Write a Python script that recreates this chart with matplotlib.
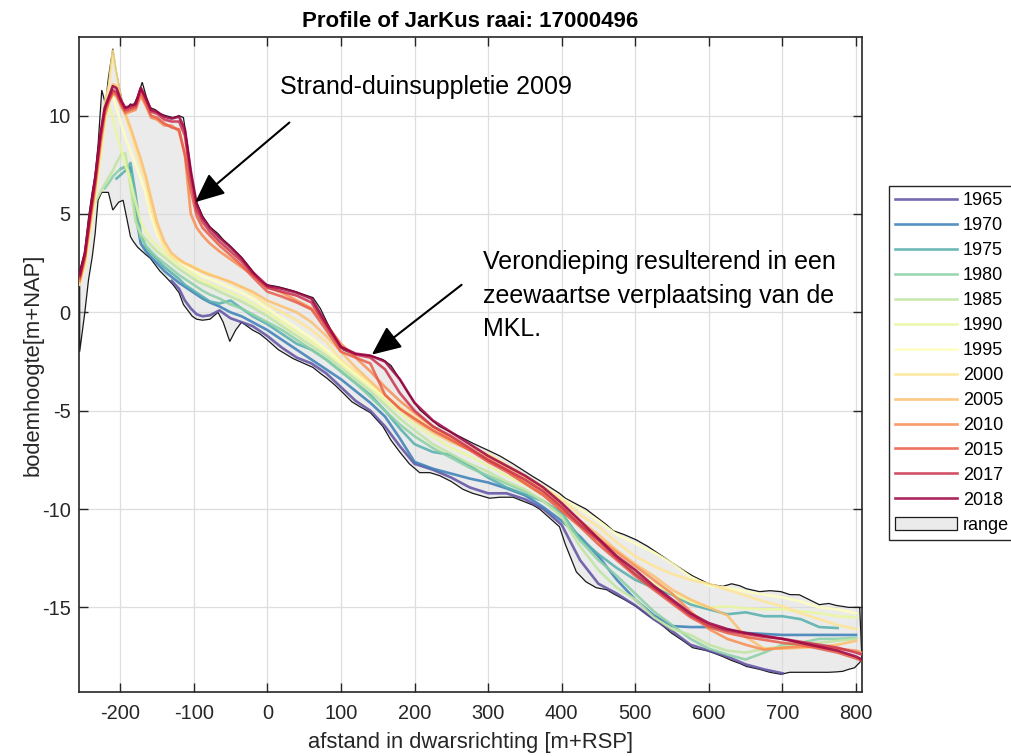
import matplotlib.pyplot as plt
import numpy as np

plt.rcParams['font.family'] = ['Liberation Sans', 'DejaVu Sans']
plt.rcParams['axes.unicode_minus'] = False

# cross-shore distance of the profile points [m+RSP]
dist = [-255, -248, -241, -234, -227, -221, -215, -210, -205, -199,
        -193, -186, -179, -172, -165, -158, -150, -140, -130, -120,
        -112, -104, -96, -88, -78, -65, -50, -35, -20, 0,
        20, 40, 60, 80, 100, 120, 140, 160, 180, 200,
        225, 250, 275, 300, 325, 350, 375, 400, 425, 450,
        475, 500, 525, 550, 575, 600, 625, 650, 675, 700,
        725, 750, 775, 800, 808]

# bed level per survey year [m+NAP], None where the year has no data
z1965 = [None] * 18 + [1.6, 1.2, 0.6, 0.2, -0.1, -0.2, -0.15, 0.1, -0.3, -0.5, -0.7, -1.2,
                       -1.8, -2.3, -2.6, -3.1, -3.8, -4.5, -5.0, -5.8, -6.8, -7.7,
                       -8.0, -8.4, -8.9, -9.2, -9.2, -9.5, -10.0, -10.8, -12.6, -13.8,
                       -14.3, -14.9, -15.6, -16.2, -16.9, -17.2, -17.5, -17.9, -18.15, -18.35,
                       None, None, None, None, None]
z1970 = [None] * 9 + [7.3, 7.4, 7.35, 5.0, 3.5, 3.1, 2.8, 2.5, 2.1, 1.8, 1.5,
                      1.3, 1.1, 0.9, 0.7, 0.5, 0.3, 0.0, -0.2, -0.5, -0.9,
                      -1.4, -1.9, -2.4, -2.9, -3.4, -4.0, -4.6, -5.3, -6.4, -7.6,
                      -7.95, -8.2, -8.45, -8.65, -8.95, -9.3, -9.9, -10.6, -11.4, -12.4,
                      -13.6, -14.6, -15.4, -15.95, -16.0, -16.0, -16.15, -16.3, -16.35, -16.4,
                      -16.4, -16.4, -16.4, -16.4, None]
z1975 = [None] * 8 + [6.8, 7.0, 7.2, 7.6, 6.0, 4.0, 3.3, 3.0, 2.7, 2.3, 2.0, 1.7,
                      1.4, 1.2, 1.0, 0.8, 0.55, 0.45, 0.6, 0.2, -0.2, -0.6,
                      -1.1, -1.6, -1.9, -2.4, -3.0, -3.6, -4.2, -5.0, -5.9, -6.7,
                      -7.1, -7.25, -7.8, -8.4, -8.9, -9.25, -9.6, -10.2, -11.5, -12.3,
                      -13.0, -13.6, -14.0, -14.35, -14.85, -15.1, -15.35, -15.25, -15.45, -15.45,
                      -15.6, -16.0, -16.05, None, None]
z1980 = [None] * 5 + [6.3, 6.6, 6.9, 7.1, 7.3, 7.4, 7.0, 4.8, 3.8, 3.4, 3.1, 2.8, 2.5, 2.2, 1.9,
                      1.7, 1.5, 1.3, 1.1, 0.9, 0.7, 0.4, 0.2, -0.1, -0.5,
                      -0.9, -1.4, -1.9, -2.4, -3.0, -3.6, -4.3, -5.0, -5.7, -6.3,
                      -6.9, -7.4, -7.9, -8.3, -8.7, -9.1, -9.6, -10.3, -11.6, -12.6,
                      -13.4, -14.3, -15.2, -15.9, -16.6, -17.1, -17.4, -17.65, -17.3, -16.9,
                      -16.8, -16.6, -16.6, -16.55, None]
z1985 = [None] * 3 + [5.6, 6.1, 6.5, 6.9, 7.2, 7.6, 8.0, 8.1, 6.4, 4.6, 4.0, 3.7, 3.4, 3.1, 2.8, 2.5, 2.2,
                      2.0, 1.8, 1.6, 1.45, 1.3, 1.05, 0.8, 0.55, 0.25, -0.2,
                      -0.7, -1.2, -1.7, -2.2, -2.8, -3.4, -4.0, -4.7, -5.4, -6.0,
                      -6.7, -7.2, -7.7, -8.1, -8.6, -9.0, -9.6, -10.4, -11.9, -13.1,
                      -14.0, -14.6, -15.5, -16.1, -16.4, -16.9, -17.2, -17.3, -17.1, -17.0,
                      -16.9, -16.8, -16.7, -16.6, None]
z1990 = [None, 2.2, 4.0, 5.8, 7.8, 9.6, 10.5, 9.9, 9.1, 8.3,
         7.5, 6.7, 5.6, 4.6, 4.1, 3.7, 3.4, 3.0, 2.7, 2.4,
         2.2, 2.0, 1.8, 1.6, 1.45, 1.25, 1.0, 0.75, 0.45, 0.0,
         -0.5, -1.0, -1.5, -2.0, -2.6, -3.2, -3.8, -4.5, -5.1, -5.7,
         -6.3, -6.9, -7.3, -7.8, -8.3, -8.75, -9.3, -10.0, -10.9, -11.7,
         -12.4, -13.2, -13.8, -14.3, -14.7, -15.0, -14.95, -15.05, -15.1, -15.1,
         -15.2, -15.3, -15.45, -15.5, None]
z1995 = [1.4, 2.4, 4.2, 6.0, 8.2, 10.3, 11.3, 11.0, 10.4, 9.6,
         8.9, 8.2, 7.5, 6.8, 6.0, 4.9, 4.0, 3.3, 2.9, 2.6,
         2.4, 2.2, 2.0, 1.85, 1.7, 1.5, 1.25, 1.0, 0.7, 0.2,
         -0.3, -0.8, -1.3, -1.9, -2.5, -3.1, -3.7, -4.3, -4.9, -5.4,
         -6.0, -6.5, -7.0, -7.3, -7.8, -8.35, -8.85, -9.45, -10.0, -10.6,
         -11.3, -11.75, -12.2, -12.75, -13.45, -13.9, -14.0, -14.2, -14.35, -14.5,
         -14.7, -15.0, -15.1, -15.3, None]
z2000 = [1.5, 2.5, 4.3, 6.1, 8.5, 10.6, 11.6, 13.3, 12.1, 10.9,
         10.0, 9.2, 8.3, 7.4, 6.6, 5.3, 4.3, 3.3, 2.8, 2.6,
         2.5, 2.4, 2.25, 2.1, 1.95, 1.75, 1.5, 1.25, 0.9, 0.4,
         0.0, -0.4, -0.9, -1.5, -2.4, -3.0, -3.6, -4.2, -4.8, -5.3,
         -5.9, -6.4, -6.85, -7.2, -7.75, -8.3, -8.9, -9.5, -10.3, -10.9,
         -11.7, -12.4, -12.9, -13.3, -13.6, -13.8, -14.1, -14.4, -14.7, -14.95,
         -15.3, -15.6, -15.9, -16.1, None]
z2005 = [1.5, 2.6, 4.4, 6.2, 8.3, 9.9, 10.9, 11.6, 11.5, 10.8,
         10.1, 9.4, 8.6, 7.8, 6.9, 5.8, 4.6, 3.6, 3.0, 2.7,
         2.5, 2.35, 2.2, 2.05, 1.9, 1.75, 1.55, 1.3, 1.05, 0.6,
         0.3, 0.0, -0.5, -1.2, -2.0, -2.8, -3.5, -4.2, -4.9, -5.5,
         -6.1, -6.6, -7.0, -7.4, -7.9, -8.4, -9.0, -9.8, -10.6, -11.3,
         -12.1, -12.8, -13.4, -14.1, -14.6, -15.0, -15.4, -16.5, -17.1, -17.1,
         -17.05, -17.0, -16.9, -16.7, None]
z2010 = [1.6, 2.7, 4.6, 6.4, 8.5, 10.0, 10.7, 11.1, 11.0, 10.5,
         10.1, 10.2, 10.3, 11.0, 10.5, 9.9, 9.8, 9.5, 9.5, 9.2,
         8.0, 5.0, 4.3, 3.9, 3.5, 3.1, 2.7, 2.3, 1.9, 1.3,
         1.0, 0.6, 0.2, -0.6, -1.6, -2.3, -3.0, -3.8, -4.5, -5.1,
         -5.8, -6.4, -7.0, -7.5, -8.0, -8.6, -9.2, -10.0, -10.8, -11.5,
         -12.2, -12.9, -13.6, -14.3, -15.2, -16.1, -16.6, -16.9, -17.15, -17.05,
         -17.0, -17.0, -17.1, -17.2, -17.3]
z2015 = [1.7, 2.8, 4.7, 6.5, 8.7, 10.2, 10.8, 11.2, 11.1, 10.6,
         10.2, 10.3, 10.4, 11.2, 10.6, 10.0, 9.9, 9.6, 9.4, 9.3,
         8.0, 6.2, 4.9, 4.3, 3.9, 3.4, 2.9, 2.4, 1.8, 1.05,
         0.8, 0.5, 0.15, -0.9, -2.0, -2.3, -2.6, -4.2, -4.9, -5.4,
         -6.0, -6.5, -7.0, -7.6, -8.1, -8.7, -9.3, -10.1, -10.9, -11.8,
         -12.6, -13.4, -14.1, -14.8, -15.5, -16.0, -16.3, -16.5, -16.65, -16.8,
         -16.9, -17.1, -17.3, -17.6, -17.7]
z2017 = [1.8, 2.9, 4.9, 6.7, 8.9, 10.3, 10.9, 11.3, 11.2, 10.7,
         10.3, 10.4, 10.5, 11.4, 10.8, 10.2, 10.1, 9.8, 9.7, 9.7,
         9.0, 6.8, 5.2, 4.6, 4.1, 3.6, 3.1, 2.6, 1.95, 1.25,
         1.05, 0.85, 0.5, -0.7, -1.8, -2.15, -2.3, -2.9, -4.1, -5.0,
         -5.8, -6.3, -6.9, -7.5, -8.0, -8.5, -9.1, -9.9, -10.8, -11.6,
         -12.5, -13.3, -14.0, -14.7, -15.4, -15.9, -16.2, -16.35, -16.5, -16.6,
         -16.75, -16.9, -17.05, -17.3, -17.4]
z2018 = [1.9, 3.0, 5.0, 6.8, 9.0, 10.4, 11.0, 11.5, 11.4, 10.8,
         10.4, 10.5, 10.6, 11.4, 10.9, 10.3, 10.2, 9.95, 9.85, 9.95,
         9.3, 7.2, 5.5, 4.8, 4.3, 3.8, 3.3, 2.75, 2.05, 1.35,
         1.2, 1.0, 0.7, -0.55, -1.75, -2.1, -2.2, -2.5, -3.4, -4.6,
         -5.5, -6.1, -6.7, -7.3, -7.8, -8.3, -8.9, -9.7, -10.6, -11.5,
         -12.4, -13.1, -13.9, -14.6, -15.3, -15.8, -16.1, -16.3, -16.45, -16.6,
         -16.8, -17.0, -17.2, -17.5, -17.65]

years = [1965, 1970, 1975, 1980, 1985, 1990, 1995, 2000, 2005, 2010, 2015, 2017, 2018]
profiles = [z1965, z1970, z1975, z1980, z1985, z1990, z1995,
            z2000, z2005, z2010, z2015, z2017, z2018]

# min/max envelope over all surveys
env_x = [-255, -248, -243, -238, -234, -230, -225, -220, -216, -210,
         -206, -202, -196, -190, -186, -182, -176, -170, -164, -159,
         -152, -146, -138, -128, -120, -114, -108, -102, -96, -88,
         -78, -67, -60, -51, -43, -35, -20, -10, 0, 15,
         35, 50, 62, 72, 81, 92, 103, 115, 126, 140,
         157, 168, 180, 193, 207, 221, 234, 250, 266, 279,
         302, 316, 334, 361, 370, 397, 405, 420, 433, 447,
         461, 470, 485, 501, 517, 533, 549, 565, 578, 597,
         605, 619, 631, 642, 651, 669, 683, 698, 710, 723,
         736, 750, 763, 773, 782, 790, 798, 805, 808]
env_hi = [2.1, 3.1, 4.8, 6.1, 7.0, 8.5, 11.3, 10.6, 11.9, 13.4,
          12.4, 11.6, 10.5, 10.4, 10.6, 10.5, 11.0, 11.7, 10.9, 10.4,
          10.3, 10.1, 10.0, 9.9, 10.0, 9.9, 8.4, 6.7, 5.6, 4.9,
          4.35, 4.0, 3.7, 3.4, 3.1, 2.8, 2.1, 1.6, 1.4, 1.3,
          1.1, 0.9, 0.75, 0.2, -0.5, -1.3, -1.9, -2.1, -2.15, -2.2,
          -2.4, -2.7, -3.4, -4.2, -4.95, -5.4, -5.8, -6.1, -6.4, -6.65,
          -7.05, -7.3, -7.7, -8.35, -8.55, -9.2, -9.45, -9.75, -10.0, -10.4,
          -10.8, -11.1, -11.3, -11.56, -11.9, -12.3, -12.7, -13.1, -13.4, -13.75,
          -13.85, -13.93, -13.8, -13.9, -14.05, -14.2, -14.15, -14.2, -14.35, -14.36,
          -14.6, -14.86, -14.8, -14.9, -14.95, -15.0, -15.0, -15.0, -17.6]
env_lo = [-2.0, 0.0, 1.65, 2.8, 4.0, 5.7, 6.1, 6.1, 6.1, 5.2,
          5.4, 5.6, 5.7, 4.6, 3.85, 3.6, 3.3, 3.1, 2.9, 2.75,
          2.4, 2.1, 1.8, 1.4, 1.0, 0.4, 0.1, -0.2, -0.35, -0.4,
          -0.35, 0.0, -0.5, -1.48, -0.9, -0.5, -0.9, -1.1, -1.4, -1.9,
          -2.35, -2.6, -2.8, -3.1, -3.35, -3.7, -4.1, -4.55, -4.8, -5.1,
          -5.8, -6.5, -7.1, -7.7, -8.15, -8.15, -8.3, -8.6, -9.0, -9.2,
          -9.45, -9.4, -9.4, -9.8, -10.0, -10.9, -11.8, -13.2, -13.7, -14.0,
          -14.1, -14.3, -14.6, -14.95, -15.4, -15.8, -16.3, -16.7, -17.05, -17.2,
          -17.3, -17.5, -17.7, -17.85, -18.0, -18.15, -18.3, -18.4, -18.3, -18.3,
          -18.3, -18.3, -18.3, -18.28, -18.25, -18.15, -18.07, -17.8, -17.6]

ink = '#262626'

fig = plt.figure(figsize=(10.12, 7.56), dpi=100)
ax = fig.add_axes([0.078, 0.0847, 0.7737, 0.8664])

# shaded range of all surveys
rng = ax.fill(env_x + env_x[::-1], env_hi + env_lo[::-1],
              facecolor=(0.85, 0.85, 0.85, 0.5), edgecolor='#1a1a1a',
              linewidth=0.9, label='range', zorder=2)[0]

colors = plt.cm.Spectral_r(np.linspace(0, 1, len(years)))
handles = []
for yr, z, c in zip(years, profiles, colors):
    h, = ax.plot(dist, np.array(z, dtype=float), color=c, lw=1.9,
                 alpha=0.85, label=str(yr), zorder=3)
    handles.append(h)

# annotations
arrow = dict(arrowstyle='-|>,head_length=0.9,head_width=0.4', color='black',
             lw=1.5, shrinkA=0, shrinkB=0, mutation_scale=20)
ax.annotate('', xy=(-98, 5.6), xytext=(30, 9.65), arrowprops=arrow, zorder=5)
ax.annotate('', xy=(142, -2.15), xytext=(264, 1.4), arrowprops=arrow, zorder=5)
ax.text(17, 11.45, 'Strand-duinsuppletie 2009', fontsize=18, va='center', zorder=5)
ax.text(293, 0.85, 'Verondieping resulterend in een\nzeewaartse verplaatsing van de\nMKL.',
        fontsize=18, va='center', linespacing=1.5, zorder=5)

ax.set_xlim(-256, 808)
ax.set_ylim(-19.3, 14.0)
ax.set_xticks(range(-200, 801, 100))
ax.set_yticks([-15, -10, -5, 0, 5, 10])
ax.grid(True, color='#dedede', lw=0.9, zorder=0)
ax.set_axisbelow(True)
ax.tick_params(direction='in', top=True, right=True, length=6.5, width=1,
               labelsize=14.4, colors=ink)
ax.tick_params(axis='x', pad=9)
ax.tick_params(axis='y', pad=6)
for s in ax.spines.values():
    s.set_color(ink)
    s.set_linewidth(1.2)

ax.set_title('Profile of JarKus raai: 17000496', fontsize=16, fontweight='bold',
             color='black', pad=7)
ax.set_xlabel('afstand in dwarsrichting [m+RSP]', fontsize=15.8, color=ink, labelpad=6)
ax.set_ylabel('bodemhoogte[m+NAP]', fontsize=15.8, color=ink, labelpad=-1)

leg = fig.legend(handles=handles + [rng], loc='upper left',
                 bbox_to_anchor=(889 / 1012, 1 - 186 / 756), borderaxespad=0,
                 fontsize=13, frameon=True, fancybox=False, edgecolor=ink,
                 framealpha=1, handlelength=3.4, handletextpad=0.35,
                 labelspacing=0.44, borderpad=0.35)
leg.get_frame().set_linewidth(1.0)

fig.savefig('out.png', dpi=100)
